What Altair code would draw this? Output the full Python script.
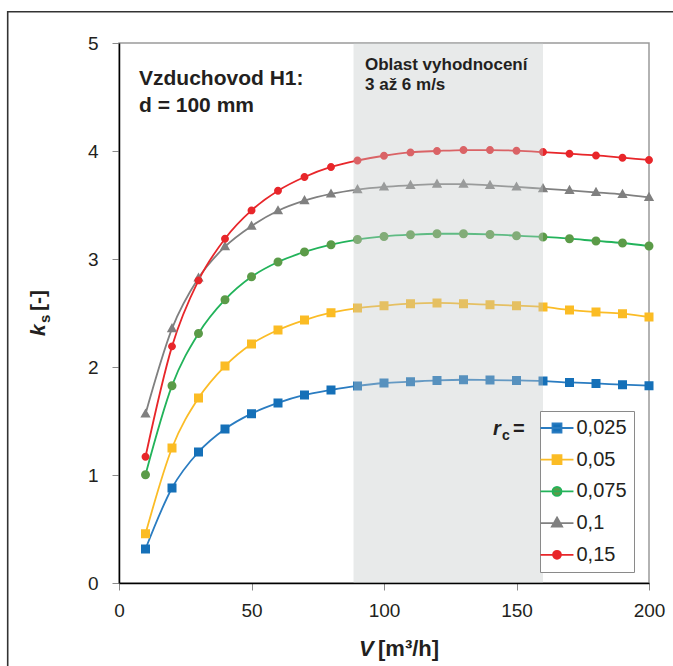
import altair as alt
import pandas as pd

# ---------------- data ----------------
V = [10, 20, 30, 40, 50, 60, 70, 80, 90, 100, 110, 120, 130, 140, 150, 160, 170, 180, 190, 200]
RC_LABELS = ["0,025", "0,05", "0,075", "0,1", "0,15"]

KS_0025 = [0.315, 0.88, 1.213, 1.426, 1.568, 1.667, 1.741, 1.787, 1.825, 1.852,
           1.864, 1.876, 1.882, 1.879, 1.876, 1.870, 1.857, 1.848, 1.836, 1.827]
KS_005 = [0.456, 1.25, 1.713, 2.009, 2.213, 2.343, 2.435, 2.503, 2.546, 2.568,
          2.586, 2.593, 2.586, 2.577, 2.568, 2.556, 2.528, 2.509, 2.494, 2.463]
KS_0075 = [1.003, 1.827, 2.311, 2.623, 2.835, 2.972, 3.065, 3.133, 3.180, 3.209,
           3.225, 3.234, 3.234, 3.228, 3.216, 3.204, 3.188, 3.167, 3.148, 3.120]
KS_01 = [1.565, 2.355, 2.824, 3.114, 3.305, 3.447, 3.540, 3.602, 3.642, 3.667,
         3.682, 3.694, 3.694, 3.682, 3.667, 3.651, 3.635, 3.617, 3.598, 3.570]
KS_015 = [1.169, 2.191, 2.802, 3.188, 3.450, 3.632, 3.759, 3.852, 3.912, 3.956,
          3.987, 4.000, 4.009, 4.009, 4.003, 3.990, 3.975, 3.959, 3.938, 3.917]
SERIES = [KS_0025, KS_005, KS_0075, KS_01, KS_015]

BAND_V = [88.5, 160.0]
BAND_TEXT = ["Oblast vyhodnocení", "3 až 6 m/s"]
DUCT_TEXT = ["Vzduchovod H1:", "d = 100 mm"]
X_TICKS = [0, 50, 100, 150, 200]
Y_TICKS = [0, 1, 2, 3, 4, 5]

# ---------------- styles ----------------
LINE_COLORS = ["#2a7cc1", "#fbbc26", "#22b35a", "#808080", "#e8262a"]
MARK_COLORS = ["#1570b8", "#fbbc24", "#5b9b48", "#808080", "#e8262a"]
LINE_WIDTHS = [1.8, 1.8, 1.6, 2.2, 2.6]

# marker paths: the horizontal stub is only visible in the legend (stroked there)
SQ = "M-1.83,0H1.83M-0.5,-0.5H0.5V0.5H-0.5Z"
CI = "M-1.83,0H1.83M0.5,0A0.5,0.5,0,1,1,-0.5,0A0.5,0.5,0,1,1,0.5,0Z"
CR = "M-1.83,0H1.83M0.44,0A0.44,0.44,0,1,1,-0.44,0A0.44,0.44,0,1,1,0.44,0Z"
TR = "M-1.83,0H1.83M0,-0.62L0.57,0.4H-0.57Z"
SHAPES = [SQ, SQ, CI, TR, CR]
MARK_SIZE = 324

FN = "'Liberation Sans', Arial, sans-serif"
TXT = "#231f20"

rows = []
for lab, ser in zip(RC_LABELS, SERIES):
    for v, k in zip(V, ser):
        rows.append({"rc": lab, "V": v, "ks": k})
df = pd.DataFrame(rows)

xs = alt.Scale(domain=[0, 200], nice=False)
ys = alt.Scale(domain=[0, 5], nice=False)


def mk_legend():
    return alt.Legend(
        title=None, orient="none", legendX=421, legendY=368, direction="vertical",
        symbolSize=MARK_SIZE, symbolStrokeWidth=2, symbolOpacity=1,
        labelFont=FN, labelFontSize=20, labelColor=TXT, labelOffset=9.5,
        rowPadding=11.7, padding=7, strokeColor="#8a8a8a", fillColor="white",
    )


xaxis = alt.Axis(values=X_TICKS, format="d", title=None, labelFont=FN, labelFontSize=19,
                 labelColor=TXT, tickColor="#8a8a8a", tickSize=7, domainColor="#000",
                 domainWidth=1.5, labelPadding=11, grid=False, labelFlush=False)
yaxis = alt.Axis(values=Y_TICKS, format="d", title=None, labelFont=FN, labelFontSize=19,
                 labelColor=TXT, tickColor="#8a8a8a", tickSize=7, domainColor="#000",
                 domainWidth=1.5, labelPadding=14, grid=False)

base = alt.Chart(df)
lines = base.mark_line(interpolate="monotone").encode(
    x=alt.X("V:Q", scale=xs, axis=xaxis),
    y=alt.Y("ks:Q", scale=ys, axis=yaxis),
    color=alt.Color("rc:N", scale=alt.Scale(domain=RC_LABELS, range=LINE_COLORS), legend=mk_legend()),
    strokeWidth=alt.StrokeWidth("rc:N", scale=alt.Scale(domain=RC_LABELS, range=LINE_WIDTHS), legend=None),
)
points = base.mark_point(filled=True, opacity=1, size=MARK_SIZE).encode(
    x=alt.X("V:Q", scale=xs),
    y=alt.Y("ks:Q", scale=ys),
    fill=alt.Fill("rc:N", scale=alt.Scale(domain=RC_LABELS, range=MARK_COLORS), legend=mk_legend()),
    shape=alt.Shape("rc:N", scale=alt.Scale(domain=RC_LABELS, range=SHAPES), legend=mk_legend()),
)

band_df = pd.DataFrame({"v0": [BAND_V[0]], "v1": [BAND_V[1]], "k0": [0], "k1": [5]})
band = alt.Chart(band_df).mark_rect(color="#c3c9c7", opacity=0.38).encode(
    x=alt.X("v0:Q", scale=xs), x2="v1:Q", y=alt.Y("k0:Q", scale=ys), y2="k1:Q"
)


def txt(s, x, y, size, weight="bold", style="normal", angle=0):
    return alt.Chart(pd.DataFrame({"t": [s]})).mark_text(
        align="left", baseline="alphabetic", font=FN, fontSize=size, fontWeight=weight,
        fontStyle=style, angle=angle, color=TXT
    ).encode(text="t:N", x=alt.value(x), y=alt.value(y))


texts = [
    txt(DUCT_TEXT[0], 20, 42, 21),
    txt(DUCT_TEXT[1], 20, 68.5, 21),
    txt(BAND_TEXT[0], 246, 27, 17),
    txt(BAND_TEXT[1], 246, 47, 17),
    # y axis title  k_s [-]
    txt("k", -74, 293, 21, "bold", "italic", 270),
    txt("s", -69, 280, 15, "bold", "normal", 270),
    txt("[-]", -74, 268, 21, "bold", "normal", 270),
    # x axis title  V [m³/h]
    txt("V", 240, 613, 22, "bold", "italic"),
    txt("[m³/h]", 259, 613, 22, "bold"),
    # legend title  r_c =
    txt("r", 374, 392, 20, "bold", "italic"),
    txt("c", 383, 397, 14, "bold"),
    txt("=", 394, 392, 20, "bold"),
]

# outer frame: only its top and left edges fall inside the picture
frame_top = alt.Chart(pd.DataFrame({"a": [0]})).mark_rule(
    color="#333333", strokeWidth=1.6
).encode(x=alt.value(-112), x2=alt.value(560), y=alt.value(-31.3))
frame_left = alt.Chart(pd.DataFrame({"a": [0]})).mark_rule(
    color="#333333", strokeWidth=1.6
).encode(x=alt.value(-111.3), y=alt.value(-32), y2=alt.value(630))

chart = alt.layer(lines, points, band, *texts, frame_top, frame_left).properties(
    width=530, height=540,
    autosize=alt.AutoSizeParams(type="none"),
    padding={"left": 119, "top": 43, "right": 24, "bottom": 83},
    background="white",
).configure_view(stroke="#9a9a9a", strokeWidth=1.5)

chart.save("out.html", embed_options={"renderer": "svg", "actions": False})
